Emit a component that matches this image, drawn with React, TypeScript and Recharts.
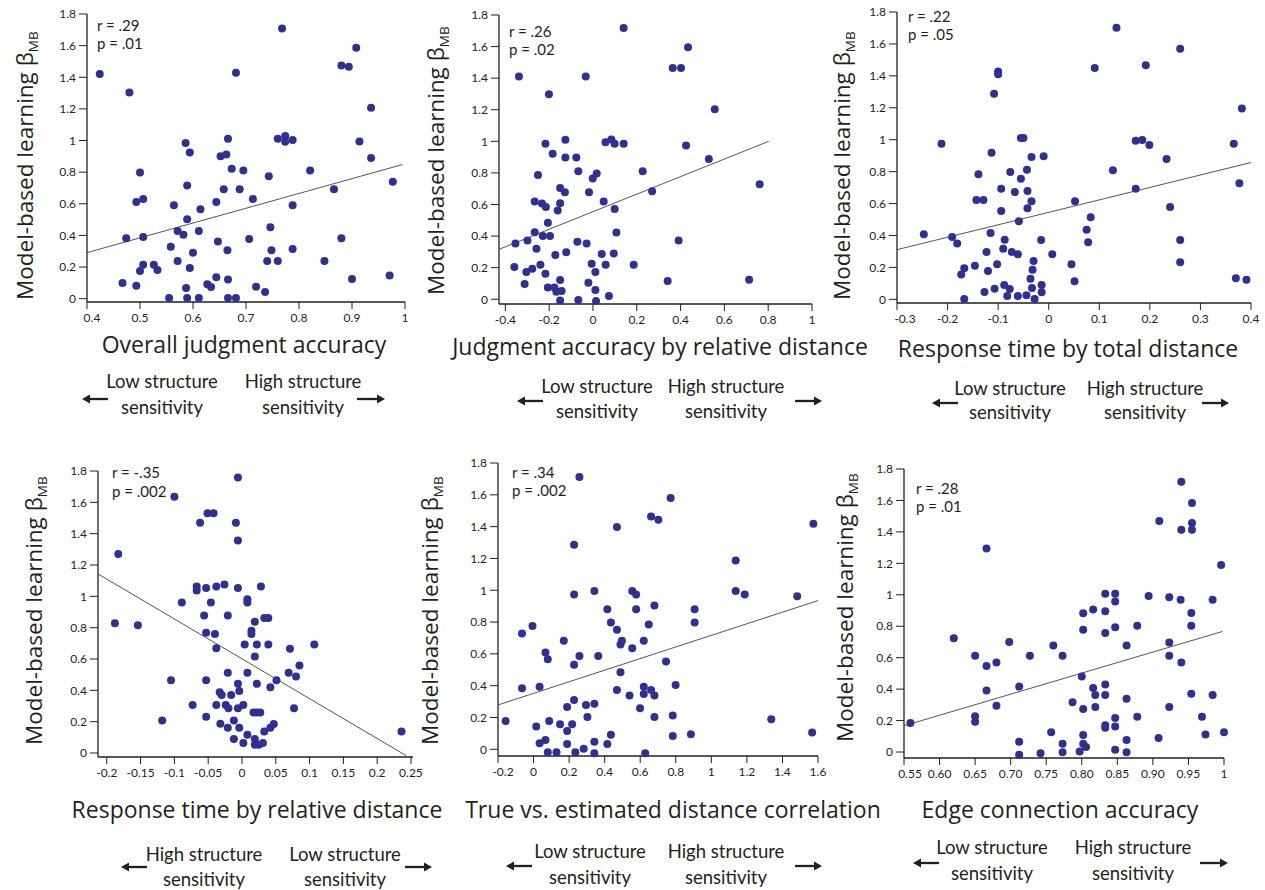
import { ScatterChart, Scatter, XAxis, YAxis, ReferenceLine } from "recharts";

const FONT = "Lato, 'Open Sans', sans-serif";
const TITLE_FONT = "'Open Sans', Lato, sans-serif";
const INK = "#231f20";
const DOT = "#2e3192";

// shared y axis (model-based learning beta)
const yTicks = [0, 0.2, 0.4, 0.6, 0.8, 1, 1.2, 1.4, 1.6, 1.8];

// 1. overall judgment accuracy
const accX = [0.4, 0.5, 0.6, 0.7, 0.8, 0.9, 1];
const accPts: [number, number][] = [
  [0.424, 1.42], [0.48, 1.304], [0.768, 1.709], [0.681, 1.429], [0.908, 1.587], [0.88, 1.475], [0.894, 1.467],
  [0.936, 1.207], [0.914, 0.994], [0.936, 0.89], [0.977, 0.739], [0.586, 0.985], [0.594, 0.924], [0.666, 1.011],
  [0.652, 0.901], [0.663, 0.912], [0.76, 1.011], [0.774, 1.028], [0.774, 0.992], [0.788, 1.004], [0.673, 0.821],
  [0.695, 0.81], [0.743, 0.774], [0.821, 0.81], [0.866, 0.692], [0.5, 0.798], [0.589, 0.715], [0.658, 0.692],
  [0.688, 0.692], [0.493, 0.612], [0.506, 0.631], [0.564, 0.591], [0.614, 0.566], [0.644, 0.612], [0.713, 0.631],
  [0.788, 0.591], [0.589, 0.502], [0.571, 0.428], [0.582, 0.405], [0.611, 0.428], [0.474, 0.382], [0.506, 0.39],
  [0.647, 0.361], [0.706, 0.378], [0.746, 0.452], [0.88, 0.382], [0.558, 0.329], [0.6, 0.291], [0.665, 0.306],
  [0.748, 0.306], [0.788, 0.314], [0.571, 0.238], [0.74, 0.238], [0.76, 0.238], [0.848, 0.238], [0.506, 0.215],
  [0.526, 0.215], [0.5, 0.175], [0.533, 0.181], [0.594, 0.194], [0.467, 0.099], [0.493, 0.082], [0.644, 0.135],
  [0.666, 0.122], [0.627, 0.091], [0.634, 0.074], [0.587, 0.068], [0.719, 0.076], [0.736, 0.042], [0.9, 0.124],
  [0.971, 0.146], [0.555, 0.004], [0.589, 0.004], [0.611, 0.004], [0.666, 0.004], [0.681, 0.004],
];
const accFit = [0.4, 0.291, 0.995, 0.848];

// 2. judgment accuracy by relative distance
const relX = [-0.4, -0.2, 0, 0.2, 0.4, 0.6, 0.8, 1];
const relPts: [number, number][] = [
  [-0.338, 1.41], [-0.201, 1.298], [-0.033, 1.41], [0.14, 1.717], [0.364, 1.464], [0.402, 1.464], [0.434, 1.595],
  [0.556, 1.203], [-0.217, 0.985], [-0.126, 1.01], [-0.184, 0.922], [-0.126, 0.898], [-0.076, 0.898], [0.057, 0.995],
  [0.084, 1.012], [0.099, 0.985], [0.14, 0.985], [0.425, 0.974], [0.529, 0.888], [-0.251, 0.787], [-0.067, 0.81],
  [-0.001, 0.764], [0.017, 0.797], [0.227, 0.81], [-0.15, 0.705], [-0.128, 0.677], [-0.018, 0.677], [0.27, 0.684],
  [0.761, 0.728], [-0.266, 0.619], [-0.233, 0.606], [-0.215, 0.585], [-0.15, 0.608], [-0.161, 0.562], [0.049, 0.619],
  [0.099, 0.572], [-0.206, 0.484], [-0.266, 0.425], [-0.229, 0.4], [-0.196, 0.4], [-0.354, 0.353], [-0.299, 0.372],
  [-0.258, 0.32], [-0.071, 0.364], [-0.029, 0.353], [0.107, 0.423], [0.391, 0.372], [-0.172, 0.28], [-0.122, 0.297],
  [0.04, 0.286], [0.095, 0.29], [-0.359, 0.204], [-0.304, 0.173], [-0.277, 0.194], [-0.24, 0.219], [-0.217, 0.162],
  [-0.006, 0.225], [0.011, 0.173], [0.058, 0.219], [0.186, 0.219], [-0.312, 0.097], [-0.206, 0.074], [-0.176, 0.074],
  [-0.167, 0.048], [-0.143, 0.053], [-0.15, 0.122], [-0.021, 0.105], [0.011, 0.059], [0.073, 0.021], [-0.15, -0.008],
  [-0.067, -0.004], [0.014, -0.011], [0.341, 0.116], [0.713, 0.124],
];
const relFit = [-0.429, 0.316, 0.802, 1.0];

// 3. response time by total distance
const rtTotX = [-0.3, -0.2, -0.1, 0, 0.1, 0.2, 0.3, 0.4];
const rtTotPts: [number, number][] = [
  [-0.247, 0.407], [-0.212, 0.975], [-0.191, 0.39], [-0.181, 0.349], [-0.167, 0.194], [-0.173, 0.155], [-0.167, 0.002],
  [-0.146, 0.211], [-0.139, 0.783], [-0.143, 0.622], [-0.129, 0.622], [-0.127, 0.046], [-0.12, 0.177], [-0.123, 0.297],
  [-0.115, 0.416], [-0.113, 0.919], [-0.108, 1.288], [-0.1, 1.428], [-0.1, 1.41], [-0.107, 0.067], [-0.102, 0.219],
  [-0.094, 0.693], [-0.094, 0.553], [-0.087, 0.374], [-0.09, 0.317], [-0.088, 0.09], [-0.082, 0.021], [-0.077, 0.065],
  [-0.076, 0.798], [-0.067, 0.672], [-0.073, 0.297], [-0.061, 0.282], [-0.061, 0.021], [-0.059, 0.489], [-0.055, 0.756],
  [-0.055, 1.011], [-0.05, 1.011], [-0.043, 0.812], [-0.042, 0.679], [-0.042, 0.57], [-0.034, 0.892], [-0.034, 0.614],
  [-0.044, 0.025], [-0.036, 0.129], [-0.033, 0.071], [-0.032, 0.186], [-0.03, 0.24], [-0.028, 0.002], [-0.015, 0.372],
  [-0.014, 0.09], [-0.014, 0.044], [-0.01, 0.896], [0.007, 0.282], [0.045, 0.219], [0.051, 0.113], [0.052, 0.614],
  [0.075, 0.436], [0.078, 0.357], [0.083, 0.514], [0.091, 1.449], [0.127, 0.808], [0.134, 1.702], [0.172, 0.994],
  [0.185, 0.998], [0.199, 0.967], [0.172, 0.693], [0.192, 1.466], [0.233, 0.879], [0.24, 0.578], [0.26, 1.57],
  [0.26, 0.372], [0.26, 0.232], [0.366, 0.975], [0.382, 1.196], [0.377, 0.727], [0.37, 0.132], [0.391, 0.123],
];
const rtTotFit = [-0.3, 0.311, 0.4, 0.857];

// 4. response time by relative distance
const rtRelX = [-0.2, -0.15, -0.1, -0.05, 0, 0.05, 0.1, 0.15, 0.2, 0.25];
const rtRelPts: [number, number][] = [
  [-0.006, 1.759], [-0.1, 1.636], [-0.062, 1.47], [-0.051, 1.53], [-0.042, 1.53], [-0.009, 1.47], [-0.006, 1.356],
  [-0.183, 1.271], [-0.067, 1.062], [-0.067, 1.037], [-0.053, 1.054], [-0.038, 1.062], [-0.026, 1.075], [-0.006, 1.054],
  [0.028, 1.062], [-0.089, 0.96], [-0.046, 0.96], [0.008, 0.982], [0.008, 0.96], [-0.188, 0.829], [-0.154, 0.816],
  [-0.056, 0.878], [-0.021, 0.878], [0.019, 0.837], [0.033, 0.861], [0.039, 0.861], [-0.053, 0.767], [-0.04, 0.759],
  [0.014, 0.78], [0.014, 0.759], [-0.038, 0.669], [0.004, 0.693], [0.022, 0.693], [0.039, 0.693], [0.071, 0.665],
  [0.107, 0.693], [0.019, 0.616], [0.085, 0.559], [0.069, 0.512], [0.08, 0.489], [0.051, 0.465], [-0.021, 0.512],
  [0.008, 0.512], [-0.105, 0.465], [-0.053, 0.465], [-0.006, 0.442], [-0.004, 0.395], [0.022, 0.442], [0.042, 0.419],
  [-0.033, 0.387], [-0.03, 0.37], [-0.016, 0.37], [-0.073, 0.306], [-0.038, 0.306], [-0.024, 0.306], [-0.02, 0.285],
  [-0.006, 0.285], [0.002, 0.306], [0.077, 0.285], [0.017, 0.259], [0.022, 0.259], [0.027, 0.259], [-0.053, 0.232],
  [-0.118, 0.208], [-0.032, 0.187], [-0.021, 0.161], [-0.012, 0.208], [-0.004, 0.161], [0.008, 0.117], [0.033, 0.138],
  [0.042, 0.161], [0.047, 0.185], [-0.012, 0.089], [0.002, 0.064], [0.019, 0.089], [0.019, 0.053], [0.025, 0.053],
  [0.031, 0.064], [0.236, 0.138],
];
const rtRelFit = [-0.213, 1.143, 0.243, -0.017];

// 5. true vs. estimated distance correlation
const corrX = [-0.2, 0, 0.2, 0.4, 0.6, 0.8, 1, 1.2, 1.4, 1.6];
const corrPts: [number, number][] = [
  [0.258, 1.712], [0.771, 1.58], [0.661, 1.464], [0.702, 1.443], [0.469, 1.397], [1.574, 1.418], [0.228, 1.286],
  [1.137, 1.187], [0.228, 0.973], [0.342, 0.996], [0.555, 0.996], [0.577, 0.973], [1.137, 0.996], [1.188, 0.973],
  [1.483, 0.963], [0.68, 0.904], [0.415, 0.881], [0.577, 0.881], [0.906, 0.881], [-0.006, 0.776], [-0.065, 0.728],
  [0.435, 0.797], [0.648, 0.785], [0.906, 0.797], [0.469, 0.751], [0.17, 0.682], [0.497, 0.682], [0.489, 0.659],
  [0.555, 0.636], [0.62, 0.682], [0.067, 0.608], [0.08, 0.566], [0.228, 0.531], [0.258, 0.587], [0.364, 0.587],
  [0.745, 0.552], [0.489, 0.485], [-0.065, 0.384], [0.034, 0.394], [0.469, 0.373], [0.62, 0.394], [0.661, 0.373],
  [0.799, 0.405], [0.54, 0.338], [0.62, 0.348], [0.68, 0.338], [0.228, 0.31], [0.189, 0.266], [0.295, 0.279],
  [0.342, 0.287], [0.599, 0.258], [0.303, 0.203], [0.68, 0.203], [0.783, 0.212], [-0.157, 0.178], [0.088, 0.178],
  [0.015, 0.143], [0.149, 0.157], [0.217, 0.157], [0.189, 0.115], [0.067, 0.059], [0.034, 0.038], [0.189, 0.034],
  [0.282, 0.004], [0.342, 0.048], [0.415, 0.034], [0.435, 0.092], [0.08, -0.019], [0.129, -0.019], [0.235, -0.019],
  [0.342, -0.025], [0.628, -0.025], [0.783, 0.084], [0.885, 0.094], [1.337, 0.189], [1.567, 0.105],
];
const corrFit = [-0.2, 0.279, 1.6, 0.935];

// 6. edge connection accuracy
const edgeX = [0.55, 0.6, 0.65, 0.7, 0.75, 0.8, 0.85, 0.9, 0.95, 1];
const edgePts: [number, number][] = [
  [0.94, 1.719], [0.955, 1.584], [0.955, 1.456], [0.955, 1.414], [0.94, 1.414], [0.909, 1.469], [0.666, 1.295],
  [0.996, 1.189], [0.833, 1.007], [0.847, 1.007], [0.847, 0.958], [0.894, 0.992], [0.923, 0.984], [0.939, 0.969],
  [0.984, 0.969], [0.802, 0.882], [0.816, 0.907], [0.833, 0.895], [0.954, 0.884], [0.802, 0.778], [0.833, 0.757],
  [0.847, 0.793], [0.878, 0.803], [0.954, 0.803], [0.62, 0.723], [0.698, 0.7], [0.76, 0.678], [0.863, 0.678],
  [0.923, 0.697], [0.65, 0.613], [0.727, 0.613], [0.773, 0.613], [0.923, 0.613], [0.666, 0.547], [0.68, 0.57],
  [0.94, 0.57], [0.8, 0.481], [0.712, 0.416], [0.666, 0.392], [0.816, 0.407], [0.833, 0.43], [0.819, 0.363],
  [0.833, 0.363], [0.863, 0.339], [0.954, 0.371], [0.984, 0.363], [0.68, 0.295], [0.787, 0.316], [0.802, 0.273],
  [0.819, 0.286], [0.923, 0.286], [0.65, 0.227], [0.65, 0.193], [0.559, 0.184], [0.847, 0.216], [0.878, 0.225],
  [0.969, 0.225], [0.833, 0.17], [0.833, 0.155], [0.847, 0.163], [0.757, 0.125], [0.802, 0.108], [1.0, 0.125],
  [0.974, 0.112], [0.908, 0.089], [0.712, 0.066], [0.773, 0.053], [0.802, 0.053], [0.806, 0.032], [0.863, 0.076],
  [0.847, 0.015], [0.712, -0.017], [0.742, -0.008], [0.773, -0.002], [0.797, 0.004], [0.863, -0.002],
];
const edgeFit = [0.55, 0.167, 0.998, 0.767];

const xTitles = [
  "Overall judgment accuracy",
  "Judgment accuracy by relative distance",
  "Response time by total distance",
  "Response time by relative distance",
  "True vs. estimated distance correlation",
  "Edge connection accuracy",
];
const rStats = ["r = .29", "r = .26", "r = .22", "r = -.35", "r = .34", "r = .28"];
const pStats = ["p = .01", "p = .02", "p = .05", "p = .002", "p = .002", "p = .01"];

const plain = (v: number) => String(v);
const twoDec = (v: number) => (v === 1 ? "1" : v.toFixed(2));

// plot rectangles in page pixels + where the annotation text sits
const panels = [
  {
    pts: accPts, fit: accFit, ticks: accX, fmt: plain, xDomain: [0.4, 1.0], yMin: -0.021, firstShift: 5,
    L: 87, T: 14, R: 405, B: 302,
    yl: [33, 300], stat: [97, 31, 49], title: [244, 353],
    lo: [162, 303], lines: [388, 414], arrowY: 399, arrows: [82, 108, 357, 385], flip: false,
  },
  {
    pts: relPts, fit: relFit, ticks: relX, fmt: plain, xDomain: [-0.429, 1.0], yMin: -0.03, firstShift: 0,
    L: 499, T: 15, R: 812, B: 304,
    yl: [444, 295], stat: [509, 37, 55], title: [660, 355],
    lo: [597, 726], lines: [393, 418], arrowY: 401, arrows: [517, 543, 795, 822], flip: false,
  },
  {
    pts: rtTotPts, fit: rtTotFit, ticks: rtTotX, fmt: plain, xDomain: [-0.3, 0.4], yMin: -0.023, firstShift: 8,
    L: 897, T: 12, R: 1251, B: 303,
    yl: [850, 300], stat: [908, 22, 40], title: [1068, 357],
    lo: [1010, 1145], lines: [395, 419], arrowY: 403, arrows: [932, 958, 1202, 1229], flip: false,
  },
  {
    pts: rtRelPts, fit: rtRelFit, ticks: rtRelX, fmt: plain, xDomain: [-0.213, 0.253], yMin: -0.0255, firstShift: 0,
    L: 98, T: 471, R: 413, B: 757,
    yl: [42, 745], stat: [112, 478, 497], title: [257, 818],
    lo: [204, 345], lines: [861, 886], arrowY: 867, arrows: [121, 147, 405, 432], flip: true,
  },
  {
    pts: corrPts, fit: corrFit, ticks: corrX, fmt: plain, xDomain: [-0.2, 1.6], yMin: -0.042, firstShift: 5,
    L: 498, T: 463, R: 818, B: 756,
    yl: [438, 745], stat: [512, 478, 496], title: [673, 818],
    lo: [590, 726], lines: [858, 884], arrowY: 866, arrows: [506, 532, 795, 822], flip: false,
  },
  {
    pts: edgePts, fit: edgeFit, ticks: edgeX, fmt: twoDec, xDomain: [0.55, 1.0], yMin: -0.038, firstShift: 6,
    L: 904, T: 469, R: 1224, B: 758,
    yl: [853, 742], stat: [916, 494, 512], title: [1060, 818],
    lo: [992, 1133], lines: [854, 880], arrowY: 863, arrows: [913, 939, 1200, 1228], flip: false,
  },
];

const YW = 44;
const XH = 30;
const MT = 8;
const MR = 14;
const MBOT = 4;

const tickStyle = { fontSize: 12, fill: INK, fontFamily: FONT };

function Panel({ p }: { p: (typeof panels)[number] }) {
  const left = p.L - YW;
  const top = p.T - MT;
  const width = p.R - left + MR;
  const height = p.B - top + XH + MBOT;
  const data = p.pts.map(([x, y]) => ({ x, y }));
  const xTick = (t: any) => (
    <text
      x={t.x + (t.index === 0 ? p.firstShift : 0)}
      y={t.y}
      dy="0.71em"
      textAnchor="middle"
      fontSize={12}
      fontFamily={FONT}
      fill={INK}
    >
      {p.fmt(t.payload.value)}
    </text>
  );
  return (
    <div style={{ position: "absolute", left, top }}>
      <ScatterChart width={width} height={height} margin={{ top: MT, right: MR, bottom: MBOT, left: 0 }}>
        <XAxis
          type="number"
          dataKey="x"
          domain={p.xDomain}
          ticks={p.ticks}
          interval={0}
          height={XH}
          tickSize={7}
          tickMargin={4}
          axisLine={{ stroke: INK, strokeWidth: 1.3 }}
          tickLine={{ stroke: INK }}
          tick={xTick}
        />
        <YAxis
          type="number"
          dataKey="y"
          domain={[p.yMin, 1.8]}
          ticks={yTicks}
          interval={0}
          tickFormatter={plain}
          width={YW}
          tickSize={8}
          tickMargin={3}
          axisLine={{ stroke: INK, strokeWidth: 1.3 }}
          tickLine={{ stroke: INK }}
          tick={tickStyle}
        />
        <ReferenceLine
          segment={[
            { x: p.fit[0], y: p.fit[1] },
            { x: p.fit[2], y: p.fit[3] },
          ]}
          stroke="#555"
          strokeWidth={1}
          ifOverflow="visible"
        />
        <Scatter
          data={data}
          fill={DOT}
          isAnimationActive={false}
          shape={(s: any) => <circle cx={s.cx} cy={s.cy} r={4} fill={DOT} />}
        />
      </ScatterChart>
    </div>
  );
}

function Arrow({ x1, x2, y, dir }: { x1: number; x2: number; y: number; dir: "l" | "r" }) {
  const head = 8;
  if (dir === "l") {
    return (
      <g>
        <line x1={x1 + head - 1} y1={y} x2={x2} y2={y} stroke={INK} strokeWidth={2.3} />
        <polygon points={`${x1},${y} ${x1 + head},${y - 4.5} ${x1 + head},${y + 4.5}`} fill={INK} />
      </g>
    );
  }
  return (
    <g>
      <line x1={x1} y1={y} x2={x2 - head + 1} y2={y} stroke={INK} strokeWidth={2.3} />
      <polygon points={`${x2},${y} ${x2 - head},${y - 4.5} ${x2 - head},${y + 4.5}`} fill={INK} />
    </g>
  );
}

export default function App() {
  return (
    <div style={{ position: "absolute", left: 0, top: 0, width: 1265, height: 890, background: "#fff" }}>
      {panels.map((p, i) => (
        <Panel key={i} p={p} />
      ))}
      <svg
        width={1265}
        height={890}
        style={{ position: "absolute", left: 0, top: 0, pointerEvents: "none" }}
        fontFamily={FONT}
        fill={INK}
      >
        {panels.map((p, i) => {
          const leftText = p.flip ? "High structure" : "Low structure";
          const rightText = p.flip ? "Low structure" : "High structure";
          return (
            <g key={i}>
              <text
                transform={`translate(${p.yl[0]},${p.yl[1]}) rotate(-90)`}
                fontSize={22.5}
                fontFamily={TITLE_FONT}
              >
                Model-based learning β
                <tspan fontSize={13.5} dy={5}>
                  MB
                </tspan>
              </text>
              <text x={p.stat[0]} y={p.stat[1]} fontSize={15}>
                {rStats[i]}
              </text>
              <text x={p.stat[0]} y={p.stat[2]} fontSize={15}>
                {pStats[i]}
              </text>
              <text x={p.title[0]} y={p.title[1]} fontSize={23} fontFamily={TITLE_FONT} textAnchor="middle">
                {xTitles[i]}
              </text>
              <text x={p.lo[0]} y={p.lines[0]} fontSize={18.5} textAnchor="middle">
                {leftText}
              </text>
              <text x={p.lo[0]} y={p.lines[1]} fontSize={18.5} textAnchor="middle">
                sensitivity
              </text>
              <text x={p.lo[1]} y={p.lines[0]} fontSize={18.5} textAnchor="middle">
                {rightText}
              </text>
              <text x={p.lo[1]} y={p.lines[1]} fontSize={18.5} textAnchor="middle">
                sensitivity
              </text>
              <Arrow x1={p.arrows[0]} x2={p.arrows[1]} y={p.arrowY} dir="l" />
              <Arrow x1={p.arrows[2]} x2={p.arrows[3]} y={p.arrowY} dir="r" />
            </g>
          );
        })}
      </svg>
    </div>
  );
}
